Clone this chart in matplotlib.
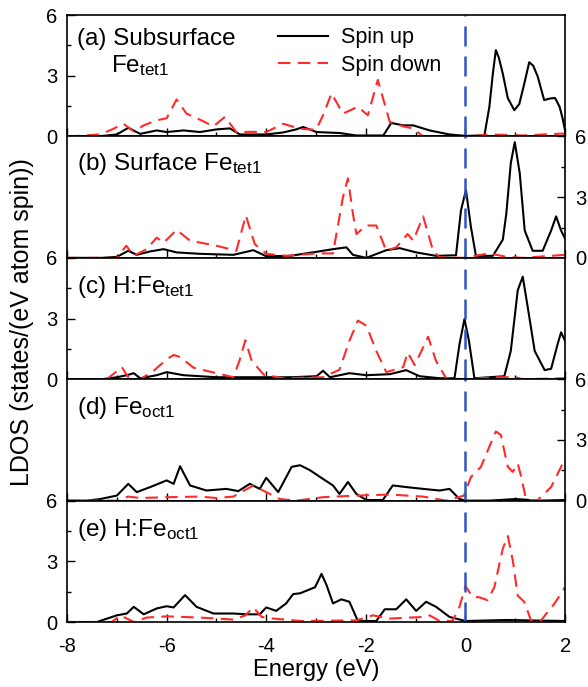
import matplotlib
matplotlib.use('Agg')
import matplotlib.pyplot as plt
from matplotlib.ticker import MultipleLocator

plt.rcParams['font.family'] = ['Liberation Sans', 'DejaVu Sans']
plt.rcParams['mathtext.fontset'] = 'custom'
plt.rcParams['mathtext.rm'] = 'Liberation Sans'
plt.rcParams['mathtext.it'] = 'Liberation Sans:italic'

# panel (a) Subsurface Fe_tet1
a_up_e = [-8, -7.4, -7.0, -6.77, -6.53, -6.2, -6.0, -5.66, -5.33, -5.0, -4.73, -4.53, -4.0, -3.66, -3.4,
          -3.26, -2.99, -2.52, -2.19, -1.65, -1.49, -1.25, -1.05, -0.72, -0.32, 0, 0.38, 0.48, 0.55, 0.61,
          0.67, 0.75, 0.85, 0.98, 1.08, 1.18, 1.28, 1.36, 1.45, 1.58, 1.7, 1.8, 1.89, 1.95, 2.0]
a_up = [0, 0, 0.1, 0.43, 0.13, 0.3, 0.22, 0.3, 0.22, 0.35, 0.4, 0.1, 0.1, 0.2, 0.35,
        0.47, 0.22, 0.17, 0.05, 0.05, 0.67, 0.55, 0.55, 0.3, 0.1, 0.03, 0.05, 1.47, 3.1, 4.27,
        3.9, 3.1, 1.9, 1.3, 1.6, 2.6, 3.67, 3.5, 2.97, 1.8, 1.88, 1.9, 1.47, 0.9, 0.3]
a_dn_e = [-8, -7.33, -7.07, -6.87, -6.66, -6.46, -6.2, -6.0, -5.8, -5.6, -5.33, -5.06, -4.83, -4.6,
          -4.26, -4.0, -3.66, -3.32, -3.0, -2.85, -2.69, -2.46, -2.16, -1.96, -1.76, -1.52, -1.25,
          -1.05, -0.85, -0.52, 0, 0.5, 1.15, 2.0]
a_dn = [0, 0.1, 0.38, 0.63, 0.25, 0.55, 0.8, 0.9, 1.83, 1.13, 0.83, 0.5, 0.97, 0.22,
        0.23, 0.22, 0.63, 0.38, 0.33, 1.1, 2.13, 1.13, 1.47, 1.05, 2.8, 0.72, 0.5,
        0.4, 0.0, 0.0, 0.0, 0.1, 0.05, 0.15]

# panel (b) Surface Fe_tet1
b_up_e = [-8, -7.3, -7.0, -6.77, -6.6, -6.33, -6.06, -5.8, -5.33, -4.66, -4.26, -4.0, -3.52, -2.99,
          -2.66, -2.39, -2.26, -1.99, -1.59, -1.32, -0.99, -0.59, -0.19, -0.09, 0.01, 0.11, 0.21, 0.55,
          0.75, 0.82, 0.91, 0.99, 1.09, 1.19, 1.35, 1.55, 1.72, 1.82, 1.92, 2.0]
b_up = [0, 0, 0.05, 0.35, 0.15, 0.32, 0.43, 0.27, 0.2, 0.15, 0.38, 0.08, 0.1, 0.3,
        0.43, 0.52, 0.15, 0.0, 0.38, 0.48, 0.27, 0.1, 0.13, 2.35, 3.35, 1.52, 0.1, 0.1,
        0.9, 2.18, 4.68, 5.72, 4.18, 1.35, 0.35, 0.35, 1.35, 2.05, 1.35, 0.95]
b_dn_e = [-8, -7.0, -6.81, -6.66, -6.4, -6.2, -6.06, -5.8, -5.53, -5.0, -4.6, -4.41, -4.23, -4.0,
          -3.6, -2.99, -2.66, -2.46, -2.36, -2.26, -2.19, -1.99, -1.79, -1.59, -1.39, -1.16, -1.05,
          -0.85, -0.65, -0.52, -0.05, 0.48, 0.82, 1.15, 2.0]
b_dn = [0, 0, 0.6, 0.1, 0.43, 1.0, 0.75, 1.38, 0.85, 0.6, 0.35, 2.1, 0.68, 0.2,
        0.1, 0.22, 0.22, 3.0, 3.93, 2.18, 1.18, 1.6, 1.6, 0.35, 0.52, 1.18, 0.85,
        2.05, 0.35, 0.03, 0, 0.22, 0.05, 0, 0.15]

# panel (c) H:Fe_tet1
c_up_e = [-8, -7.3, -7.0, -6.8, -6.66, -6.53, -6.2, -6.0, -5.66, -5.0, -4.33, -3.5, -2.99, -2.86,
          -2.72, -2.33, -1.99, -1.52, -1.19, -0.92, -0.52, -0.22, -0.12, -0.02, 0.07, 0.18, 0.78,
          0.91, 1.05, 1.15, 1.25, 1.39, 1.59, 1.72, 1.85, 1.92, 2.0]
c_up = [0, 0, 0.1, 0.2, 0.3, 0.05, 0.2, 0.35, 0.2, 0.1, 0.1, 0.1, 0.15, 0.42,
        0.1, 0.3, 0.2, 0.25, 0.45, 0.15, 0.05, 0.05, 1.73, 2.98, 1.9, 0.05, 0.15,
        1.4, 4.4, 5.07, 3.57, 1.4, 0.45, 0.52, 1.73, 2.32, 1.9]
c_dn_e = [-8, -7.2, -6.9, -6.77, -6.53, -6.26, -6.0, -5.86, -5.73, -5.46, -5.0, -4.66, -4.54, -4.42,
          -4.29, -4.05, -3.66, -2.86, -2.53, -2.33, -2.16, -1.99, -1.79, -1.59, -1.25, -1.16, -1.02,
          -0.85, -0.75, -0.59, -0.39, 0, 0.61, 1.01, 1.15, 2.0]
c_dn = [0, 0, 0.6, 0.1, 0, 0.42, 0.98, 1.2, 1.1, 0.57, 0.3, 0.1, 0.9, 1.93,
        0.9, 0.23, 0.05, 0.1, 0.47, 1.9, 2.9, 2.65, 1.4, 0.35, 0.6, 1.32, 0.7,
        1.57, 2.1, 0.9, 0.05, 0, 0.1, 0.1, 0, 0.05]

# panel (d) Fe_oct1
d_up_e = [-8, -7.6, -7.33, -7.0, -6.77, -6.6, -6.33, -6.0, -5.86, -5.73, -5.53, -5.2, -4.8, -4.56,
          -4.33, -4.13, -4.0, -3.76, -3.49, -3.32, -3.12, -2.92, -2.66, -2.53, -2.36, -2.19, -1.99,
          -1.66, -1.46, -1.19, -0.85, -0.52, -0.32, -0.12, 0, 0.48, 1.01, 1.48, 2.0]
d_up = [0, 0, 0.08, 0.25, 0.83, 0.42, 0.67, 1.0, 0.83, 1.7, 0.75, 0.5, 0.58, 0.47,
        0.83, 0.58, 1.13, 0.42, 1.67, 1.75, 1.5, 1.17, 0.75, 0.33, 0.92, 0.33, 0.03,
        0.03, 0.75, 0.67, 0.58, 0.5, 0.58, 0.08, 0, 0, 0.08, 0, 0.03]
d_dn_e = [-8, -7.0, -6.77, -6.53, -6.0, -5.33, -5.0, -4.66, -4.26, -4.0, -3.73, -3.4, -2.86, -2.19,
          -1.52, -0.85, -0.39, -0.03, 0.11, 0.31, 0.48, 0.61, 0.71, 0.85, 0.95, 1.05, 1.12, 1.22,
          1.45, 1.72, 1.92, 2.0]
d_dn = [0, 0, 0.2, 0.13, 0.17, 0.2, 0.13, 0.2, 0.75, 0.42, 0.08, 0, 0.17, 0.25,
        0.3, 0.2, 0, 0.25, 1.17, 1.67, 2.67, 3.42, 3.25, 1.67, 1.42, 1.83, 1.17, 0.03,
        0.03, 0.67, 1.67, 2.0]

# panel (e) H:Fe_oct1
e_up_e = [-8, -7.4, -7.0, -6.8, -6.66, -6.46, -6.2, -6.0, -5.86, -5.63, -5.4, -5.06, -4.66, -4.4,
          -4.13, -4.0, -3.8, -3.6, -3.46, -3.32, -3.02, -2.89, -2.79, -2.66, -2.49, -2.33, -2.16,
          -1.79, -1.62, -1.39, -1.19, -0.99, -0.79, -0.59, -0.32, 0, 0.82, 2.0]
e_up = [0, 0, 0.33, 0.42, 0.75, 0.38, 0.67, 0.78, 0.72, 1.33, 0.75, 0.42, 0.42, 0.38,
        0.38, 0.72, 0.55, 0.92, 1.38, 1.42, 1.72, 2.38, 1.83, 0.92, 1.12, 1.0, 0.05,
        0.05, 0.63, 0.63, 1.12, 0.55, 1.0, 0.75, 0.25, 0.05, 0.1, 0.05]
e_dn_e = [-8, -7.1, -6.93, -6.66, -6.4, -6.0, -5.33, -4.66, -4.42, -4.26, -4.09, -3.86, -3.3, -2.19,
          -1.86, -1.52, -0.85, -0.72, -0.52, -0.26, -0.12, 0, 0.14, 0.28, 0.44, 0.58, 0.75, 0.85,
          0.95, 1.05, 1.18, 1.32, 1.49, 1.79, 2.0]
e_dn = [0, 0, 0.33, 0, 0.22, 0.28, 0.22, 0.12, 0.33, 0.72, 0.25, 0.17, 0.05, 0.08,
        0.33, 0.17, 0.25, 0.33, 0.05, 0.05, 0.75, 1.78, 1.25, 1.22, 1.08, 1.72, 3.63, 4.25,
        3.05, 1.3, 1.0, 0.05, 0, 0.92, 1.72]

panels = [
  (a_up_e, a_up, a_dn_e, a_dn),
  (b_up_e, b_up, b_dn_e, b_dn),
  (c_up_e, c_up, c_dn_e, c_dn),
  (d_up_e, d_up, d_dn_e, d_dn),
  (e_up_e, e_up, e_dn_e, e_dn),
]
labels = [r'(a) Subsurface', r'(b) Surface Fe$_{\rm tet1}$', r'(c) H:Fe$_{\rm tet1}$',
          r'(d) Fe$_{\rm oct1}$', r'(e) H:Fe$_{\rm oct1}$']
label_y = [0.752, 0.72, 0.713, 0.71, 0.71]
x_ticks = [-8, -6, -4, -2, 0, 2]

red = '#ff2a2a'
fig, axes = plt.subplots(5, 1, figsize=(5.88, 6.87), dpi=100, sharex=True)
fig.subplots_adjust(left=0.114, right=0.961, top=0.978, bottom=0.0946, hspace=0)

for i, ax in enumerate(axes):
  up_e, up, dn_e, dn = panels[i]
  ax.plot(up_e, up, color='black', lw=1.5, label='Spin up')
  ax.plot(dn_e, dn, color=red, lw=1.5, dashes=(6, 3.5), label='Spin down')
  ax.axvline(0, color='#2f55c0', lw=1.8, dashes=(8, 4))
  ax.set_xlim(-8, 2)
  ax.set_ylim(0, 6)
  ax.set_yticks([0, 3, 6])
  ax.yaxis.set_minor_locator(MultipleLocator(1.5))
  ax.xaxis.set_minor_locator(MultipleLocator(1))
  ax.set_xticks(x_ticks)
  side_right = (i % 2 == 1)
  ax.tick_params(axis='y', which='both', direction='in', left=not side_right, right=side_right,
                 labelleft=not side_right, labelright=side_right, labelsize=14.5, pad=7)
  ax.tick_params(axis='y', which='major', length=6, width=1)
  ax.tick_params(axis='y', which='minor', length=3, width=1)
  ax.tick_params(axis='x', which='both', direction='in', top=False, labelsize=14.5)
  ax.tick_params(axis='x', which='major', length=6, width=1)
  ax.tick_params(axis='x', which='minor', length=3, width=1)
  for s in ax.spines.values():
    s.set_linewidth(1.2)
  ax.text(0.02, label_y[i], labels[i], transform=ax.transAxes, fontsize=17.5, va='baseline')

axes[0].text(0.088, 0.53, r'Fe$_{\rm tet1}$', transform=axes[0].transAxes, fontsize=17.5, va='baseline')
axes[0].legend(loc='upper left', bbox_to_anchor=(0.385, 1.06), frameon=False, fontsize=15.5,
               handlelength=2.3, handletextpad=0.6, labelspacing=0.3, borderpad=0.4)
axes[-1].set_xticklabels([str(t) for t in x_ticks])
axes[-1].tick_params(axis='x', pad=11)
axes[-1].set_xlabel('Energy (eV)', fontsize=17, labelpad=2)
fig.text(0.037, 0.531, 'LDOS (states/(eV atom spin))', rotation=90, fontsize=18,
         ha='center', va='center')

plt.savefig('out.png', dpi=100)
